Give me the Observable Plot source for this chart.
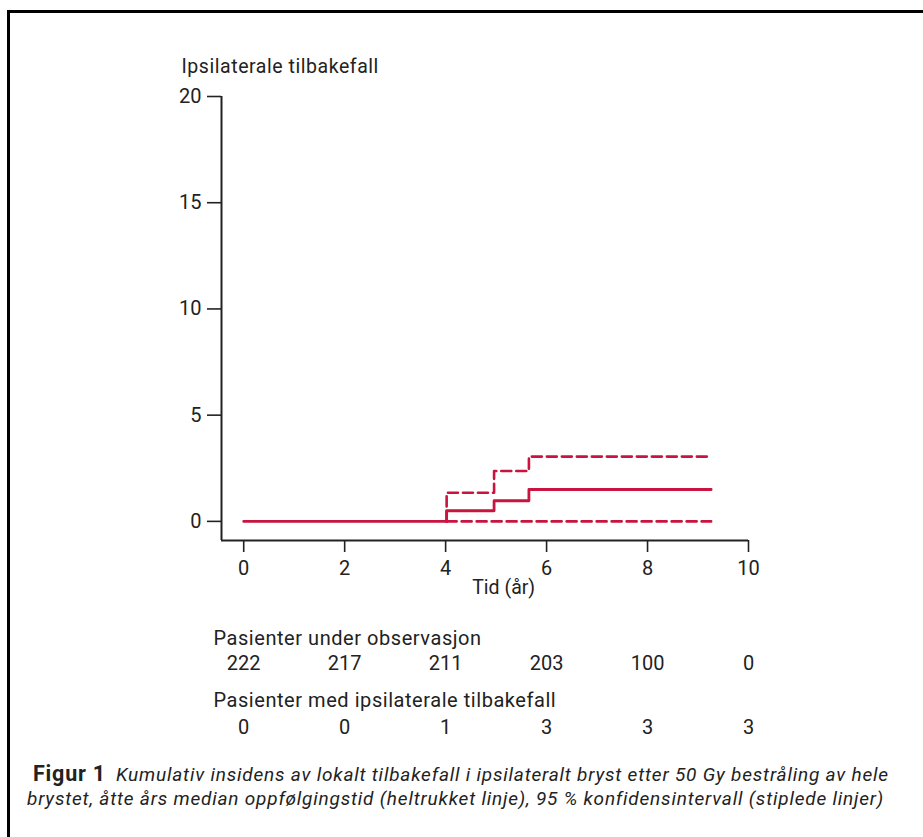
<!DOCTYPE html>
<html>
<head>
<meta charset="utf-8">
<script src="https://cdn.jsdelivr.net/npm/d3@7"></script>
<script src="https://cdn.jsdelivr.net/npm/@observablehq/plot@0.6"></script>
<style>
  html, body { margin: 0; padding: 0; background: #fff; }
  body { width: 923px; height: 837px; position: relative; overflow: hidden; font-family: Roboto, "Liberation Sans", sans-serif; color: #222; }
  #frame { position: absolute; left: 7px; top: 10px; width: 960px; height: 900px; border-left: 3px solid #000; border-top: 3px solid #000; box-sizing: border-box; }
  #chart { position: absolute; left: 0; top: 0; }
  #caption { position: absolute; left: 27px; top: 761px; width: 892px; font-size: 19px; line-height: 25px; color: #222; white-space: nowrap; }
  #caption div { height: 25px; }
  #caption b { font-style: normal; font-size: 21.5px; font-weight: 700; letter-spacing: 0.8px; margin-left: 6px; margin-right: 10px; }
  #caption i { font-style: italic; letter-spacing: 0.8px; }
</style>
</head>
<body>
<div id="frame"></div>
<div id="chart"></div>
<div id="caption"><div><b>Figur 1</b><i>Kumulativ insidens av lokalt tilbakefall i ipsilateralt bryst etter 50 Gy bestråling av hele</i></div><div><i>brystet, åtte års median oppfølgingstid (heltrukket linje), 95 % konfidensintervall (stiplede linjer)</i></div></div>
<script>
// Kaplan–Meier cumulative incidence (percent)
const estTime  = [0, 4.02, 4.96, 5.65, 9.26];
const estValue = [0, 0.5, 0.97, 1.5, 1.5];
const upperTime  = [4.02, 4.02, 4.96, 5.65, 9.26];
const upperValue = [0, 1.35, 2.37, 3.05, 3.05];
const lowerTime  = [4.02, 9.26];
const lowerValue = [0, 0];

const xTicks = [0, 2, 4, 6, 8, 10];
const yTicks = [0, 5, 10, 15, 20];

const riskTimes = [0, 2, 4, 6, 8, 10];
const atRisk = [222, 217, 211, 203, 100, 0];
const withRelapse = [0, 0, 1, 3, 3, 3];

const yLabel = "Ipsilaterale tilbakefall";
const xLabel = "Tid (år)";
const riskTitle1 = "Pasienter under observasjon";
const riskTitle2 = "Pasienter med ipsilaterale tilbakefall";

const est = estTime.map((t, i) => ({t, v: estValue[i]}));
const upper = upperTime.map((t, i) => ({t, v: upperValue[i]}));
const lower = lowerTime.map((t, i) => ({t, v: lowerValue[i]}));
const riskRows = riskTimes.map((t, i) => ({t, n: atRisk[i], r: withRelapse[i]}));

const red = "#c8143f";
const ink = "#222";

const chart = Plot.plot({
  width: 923,
  height: 745,
  marginLeft: 221,
  marginRight: 175,
  marginTop: 96,
  marginBottom: 205,
  style: {fontFamily: "Roboto, 'Liberation Sans', sans-serif", fontSize: "20px", color: ink, background: "transparent", overflow: "visible"},
  x: {domain: [-0.44, 10]},
  y: {domain: [-0.9, 20]},
  marks: [
    // axis lines
    Plot.ruleX([-0.44], {y1: -0.9, y2: 20, stroke: ink, strokeWidth: 2}),
    Plot.ruleY([-0.9], {x1: -0.44, x2: 10, stroke: ink, strokeWidth: 2}),
    Plot.axisX(xTicks, {tickSize: 12, tickPadding: 8, stroke: ink, strokeWidth: 1.6, fontSize: 20, fill: ink, label: null, tickFormat: d => d}),
    Plot.axisY(yTicks, {tickSize: 14, tickPadding: 6, stroke: ink, strokeWidth: 1.6, fontSize: 20, fill: ink, label: null, tickFormat: d => d}),
    Plot.text([yLabel], {frameAnchor: "top-left", dx: -40, dy: -37, textAnchor: "start", fontSize: 19.5, fill: ink}),
    Plot.text([xLabel], {x: 5.15, frameAnchor: "bottom", dy: 53, fontSize: 19.5, fill: ink}),
    // curves
    Plot.line(lower, {x: "t", y: "v", curve: "step-after", stroke: red, strokeWidth: 2.6, strokeDasharray: "10,5"}),
    Plot.line(upper, {x: "t", y: "v", curve: "step-after", stroke: red, strokeWidth: 2.6, strokeDasharray: "10,5"}),
    Plot.line(est, {x: "t", y: "v", curve: "step-after", stroke: red, strokeWidth: 2.8}),
    // number-at-risk table
    Plot.text([riskTitle1], {frameAnchor: "bottom-left", dx: -8, dy: 104, textAnchor: "start", fontSize: 20, fill: ink}),
    Plot.text(riskRows, {x: "t", text: "n", frameAnchor: "bottom", dy: 129, fontSize: 20, fill: ink}),
    Plot.text([riskTitle2], {frameAnchor: "bottom-left", dx: -8, dy: 166, textAnchor: "start", fontSize: 20, fill: ink}),
    Plot.text(riskRows, {x: "t", text: "r", frameAnchor: "bottom", dy: 193, fontSize: 20, fill: ink})
  ]
});
// wider tracking for the label texts (the reference face is wider than Roboto)
d3.select(chart).selectAll("text")
  .filter(function() { return [yLabel, riskTitle1, riskTitle2].includes(this.textContent); })
  .attr("letter-spacing", "0.55px");
document.getElementById("chart").appendChild(chart);
</script>
</body>
</html>
